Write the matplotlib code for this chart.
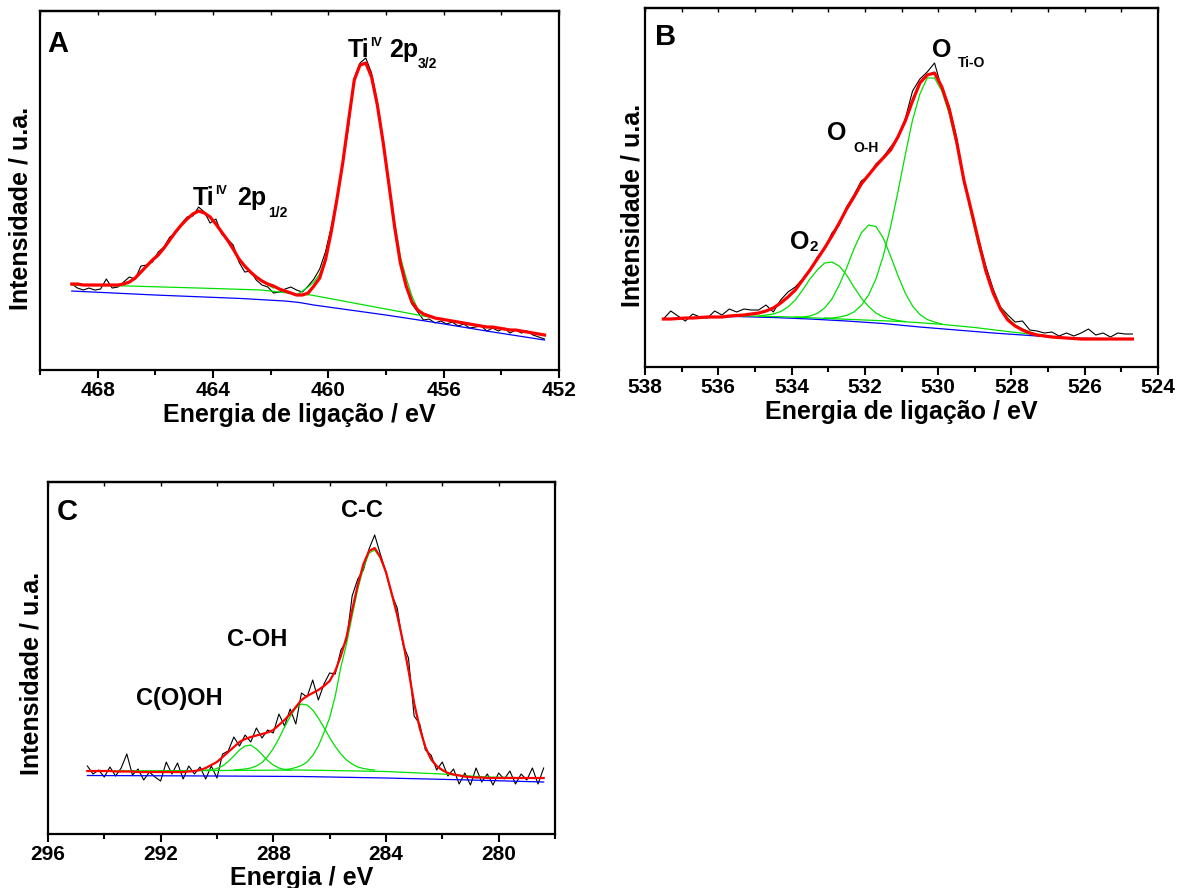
import matplotlib
matplotlib.use('Agg')
import matplotlib.pyplot as plt
import numpy as np
from matplotlib.ticker import MultipleLocator

plt.rcParams['font.family'] = ['Liberation Sans', 'DejaVu Sans']
plt.rcParams['font.weight'] = 'bold'

# ---------- A: Ti 2p (0.2 eV steps from 468.9 eV) ----------
ti_start = 468.9
ti_fit = [86, 86, 85, 85, 85, 85, 85, 85, 85, 86,
          88, 92, 98, 104, 110, 115, 122, 130, 138, 145,
          151, 156, 159, 157, 153, 146, 138, 130, 121, 111,
          104, 98, 93, 89, 86, 84, 81, 79, 77, 75,
          75, 77, 84, 92, 110, 138, 171, 207, 249, 290,
          305, 307, 293, 265, 228, 186, 143, 107, 84, 68,
          60, 56, 54, 52, 51, 50, 49, 48, 47, 46,
          45, 44, 43, 43, 42, 41, 40, 40, 39, 38,
          37, 36, 35]
ti_raw = [86, 82, 80, 82, 80, 81, 91, 82, 83, 88,
          93, 91, 104, 105, 108, 118, 123, 133, 137, 146,
          153, 154, 163, 158, 147, 151, 136, 131, 125, 108,
          98, 99, 90, 85, 83, 77, 78, 81, 83, 80,
          78, 84, 91, 101, 118, 143, 173, 206, 243, 292,
          307, 312, 297, 268, 229, 185, 141, 108, 83, 66,
          58, 50, 51, 47, 49, 46, 48, 44, 46, 42,
          43, 44, 39, 42, 39, 42, 37, 40, 37, 39,
          35, 33, 31]
ti12_start = 467.5
ti12_peak = [85, 85, 86, 88, 92, 98, 104, 110, 115, 122,
             130, 138, 145, 151, 156, 159, 157, 153, 146, 138,
             130, 121, 111, 104, 98, 93, 89, 85, 82]
ti32_start = 461.1
ti32_peak = [75, 79, 83, 88, 96, 112, 139, 171, 207, 249,
             290, 305, 307, 293, 265, 228, 188, 148, 113, 92,
             74, 61, 55]
ti_bg_e = [468.9, 466.9, 464.5, 462.3, 461.1, 460.6, 456.7, 455.5, 454.4, 453.2, 452.5]
ti_bg = [85, 84, 82, 80, 76, 75, 54, 48, 43, 39, 35]
ti_base_e = [468.9, 466.0, 463.0, 461.5, 461.0, 460.5, 460.0, 458.0, 456.4, 454.4, 452.5]
ti_base = [79, 75, 71.5, 69, 67.5, 65, 63, 55, 48, 38.5, 30]

# ---------- B: O 1s (0.2 eV steps from 537.5 eV) ----------
o_start = 537.5
o_fit = [48, 48, 48.5, 49, 49, 49.5, 50, 50, 50, 51,
         51.5, 52, 53, 54, 56, 59, 64, 70, 77, 87,
         97, 108, 119, 131, 144, 158, 170, 183, 192, 201,
         209, 217, 230, 246, 266, 284, 292, 294, 280, 258,
         226, 187, 157, 126, 96, 74, 58, 47, 41, 37,
         34, 32, 31, 30, 29.5, 29, 28.5, 28, 28, 28,
         28, 28, 28, 28, 28]
o_raw = [48, 56, 51, 46, 53, 50, 49, 56, 52, 58,
         55, 58, 57, 57, 62, 55, 67, 75, 80, 88,
         96, 110, 118, 134, 142, 160, 172, 186, 191, 203,
         210, 220, 229, 248, 276, 288, 295, 304, 278, 261,
         230, 184, 158, 128, 101, 78, 60, 52, 45, 46,
         37, 36, 34, 35, 31, 34, 31, 34, 38, 32,
         34, 30, 34, 33, 33]
o2_start = 534.9
o2_peak = [51, 52, 53, 55.5, 60, 67, 77, 88, 97, 104,
           105, 101, 92, 80, 69, 60.5, 54, 50, 48, 46.5, 45.3]
ooh_start = 533.9
ooh_peak = [50, 50, 51, 53.6, 59, 68, 82, 99, 118, 134,
            142, 140.5, 129, 111, 91.6, 74, 61, 52.5, 47.5, 45, 43]
otio_start = 533.1
otio_peak = [49, 49, 50, 51.6, 55, 61.5, 72, 88, 111, 140,
             175, 212, 247, 273, 289, 289, 276, 253, 222, 187,
             152.5, 121, 95, 75, 60, 49, 42, 38, 35, 32.5, 31.5]
o_bg_e = [537.5, 535.5, 535.0, 534.0, 533.0, 532.0, 531.0, 530.0, 529.0, 528.0,
          527.5, 527.0, 526.5, 526.0, 524.7]
o_bg = [48, 51, 51, 50, 48.5, 47, 45.5, 43, 39.5, 35, 33, 31, 29, 28, 28]
o_base_e = [537.5, 535.5, 534.5, 533.5, 532.5, 531.5, 530.5, 529.5, 528.5, 527.5, 526.5, 524.7]
o_base = [48, 50.5, 49.5, 48, 46, 43.5, 40, 37, 34, 31.5, 29, 28]

# ---------- C: C 1s (0.2 eV steps from 294.6 eV) ----------
c_start = 294.6
c_fit = [63, 63, 63, 63, 63, 62.5, 62.5, 62.5, 62.5, 62,
         62, 62, 62, 62, 62, 62, 62, 62, 62.5, 63,
         64, 66, 69, 72, 77, 82, 87, 92, 95, 97,
         98.5, 100, 101.5, 104, 109, 114, 120, 127, 134, 138,
         141, 144, 148, 153, 163, 178, 197, 224, 249, 270,
         283, 286, 277, 262, 241, 219, 193, 164, 131, 106,
         87, 75, 68, 64, 61, 59.5, 58.5, 57.5, 57, 56.5,
         56.5, 56, 56, 56, 56, 56, 56, 56, 56, 56,
         56, 56]
c_raw = [68, 60, 64, 57, 67, 58, 66, 80, 59, 65,
         54, 62, 57, 53, 72, 60, 71, 55, 68, 60,
         67, 55, 68, 56, 80, 83, 97, 88, 99, 92,
         106, 96, 104, 101, 120, 108, 125, 110, 141, 137,
         154, 134, 150, 161, 160, 184, 193, 238, 255, 264,
         285, 299, 280, 262, 240, 226, 190, 176, 118, 110,
         84, 79, 64, 72, 58, 65, 50, 61, 49, 66,
         52, 60, 49, 61, 55, 63, 50, 60, 54, 66,
         50, 66]
cooh_start = 290.4
cooh_peak = [64, 64, 65.5, 68, 72.5, 78, 84, 88, 89, 85,
             79.5, 73.5, 69, 66, 64.5, 64]
coh_start = 289.4
coh_peak = [64, 64.5, 65, 66, 68, 71.5, 77.5, 85.5, 95.5, 107,
            117.5, 126, 130, 129, 124, 116, 106.5, 96.5, 87.5, 80,
            74, 70, 67, 65.5, 64.5, 64]
cc_start = 287.6
cc_peak = [64.5, 65, 66.5, 68.5, 72, 78.5, 88, 101.5, 116, 138,
           167, 190, 218, 245, 266, 281, 284, 276, 261, 240,
           218, 192, 163, 130, 105, 86, 74, 67.5, 63.5, 61,
           59.5]
c_bg_e = [294.6, 290.0, 287.0, 284.0, 282.0, 280.5, 278.4]
c_bg = [63, 63.5, 64, 62.5, 60, 57, 56]
c_base_e = [294.6, 290.0, 287.0, 284.0, 281.0, 278.4]
c_base = [58.5, 58, 57.5, 56, 54, 52]

STEP = 0.2
GREEN = '#00e000'


def energies(start, values):
    return start - STEP * np.arange(len(values))


def style(ax, xlim, ylim, major, minor, xlabel):
    ax.set_xlim(*xlim)
    ax.set_ylim(*ylim)
    ax.set_yticks([])
    ax.xaxis.set_major_locator(MultipleLocator(major))
    ax.xaxis.set_minor_locator(MultipleLocator(minor))
    ax.tick_params(axis='x', which='major', direction='out', length=6, width=1.5,
                   labelsize=15, pad=2)
    ax.tick_params(axis='x', which='minor', direction='out', length=3.5, width=1.5)
    for lab in ax.get_xticklabels():
        lab.set_fontweight('bold')
    # short inward ticks along the top edge
    top = ax.secondary_xaxis('top')
    top.xaxis.set_major_locator(MultipleLocator(major))
    top.xaxis.set_minor_locator(MultipleLocator(minor))
    top.tick_params(which='both', direction='in', length=3, width=1.0, labeltop=False)
    top.spines['top'].set_linewidth(1.6)
    for sp in ax.spines.values():
        sp.set_linewidth(1.6)
    ax.set_xlabel(xlabel, fontsize=18, fontweight='bold')
    ax.set_ylabel('Intensidade / u.a.', fontsize=18, fontweight='bold')


def put(ax, x, y, s, size):
    ax.text(x, y, s, fontsize=size, fontweight='bold', va='baseline', ha='left')


fig = plt.figure(figsize=(11.84, 8.88), dpi=100)
axA = fig.add_axes([0.0338, 0.5833, 0.4383, 0.4043])
axB = fig.add_axes([0.5448, 0.5867, 0.4333, 0.4043])
axC = fig.add_axes([0.0405, 0.0608, 0.4282, 0.3964])

# panel A
axA.plot(energies(ti_start, ti_raw), ti_raw, color='black', lw=0.8)
axA.plot(ti_base_e, ti_base, color='blue', lw=0.9)
axA.plot(ti_bg_e, ti_bg, color=GREEN, lw=0.9)
axA.plot(energies(ti12_start, ti12_peak), ti12_peak, color=GREEN, lw=0.9)
axA.plot(energies(ti32_start, ti32_peak), ti32_peak, color=GREEN, lw=0.9)
axA.plot(energies(ti_start, ti_fit), ti_fit, color='red', lw=2.3)
style(axA, (470, 452), (0, 359), 4, 2, 'Energia de ligação / eV')
put(axA, 469.76, 318, 'A', 21)
put(axA, 464.69, 165, 'Ti', 18)
put(axA, 463.92, 176, 'IV', 9)
put(axA, 463.16, 165, '2p', 18)
put(axA, 462.1, 153, '1/2', 10)
put(axA, 459.34, 313, 'Ti', 18)
put(axA, 458.56, 324, 'IV', 9)
put(axA, 457.88, 313, '2p', 18)
put(axA, 456.9, 302, '3/2', 10)

# panel B
axB.plot(energies(o_start, o_raw), o_raw, color='black', lw=0.8)
axB.plot(o_base_e, o_base, color='blue', lw=0.9)
axB.plot(o_bg_e, o_bg, color=GREEN, lw=0.9)
axB.plot(energies(o2_start, o2_peak), o2_peak, color=GREEN, lw=0.9)
axB.plot(energies(ooh_start, ooh_peak), ooh_peak, color=GREEN, lw=0.9)
axB.plot(energies(otio_start, otio_peak), otio_peak, color=GREEN, lw=0.9)
axB.plot(energies(o_start, o_fit), o_fit, color='red', lw=2.3)
style(axB, (538, 524), (0, 359), 2, 1, 'Energia de ligação / eV')
put(axB, 537.73, 322, 'B', 21)
put(axB, 534.04, 118, 'O', 18)
put(axB, 533.5, 116, '2', 11)
put(axB, 533.03, 227, 'O', 18)
put(axB, 532.32, 215, 'O-H', 10)
put(axB, 530.17, 310, 'O', 18)
put(axB, 529.46, 300, 'Ti-O', 10)

# panel C
axC.plot(energies(c_start, c_raw), c_raw, color='black', lw=0.8)
axC.plot(c_base_e, c_base, color='blue', lw=0.9)
axC.plot(c_bg_e, c_bg, color=GREEN, lw=0.9)
axC.plot(energies(cooh_start, cooh_peak), cooh_peak, color=GREEN, lw=0.9)
axC.plot(energies(coh_start, coh_peak), coh_peak, color=GREEN, lw=0.9)
axC.plot(energies(cc_start, cc_peak), cc_peak, color=GREEN, lw=0.9)
axC.plot(energies(c_start, c_fit), c_fit, color='red', lw=1.6)
style(axC, (296, 278), (0, 352), 4, 2, 'Energia / eV')
put(axC, 295.68, 314, 'C', 21)
put(axC, 285.61, 317, 'C-C', 17)
put(axC, 289.63, 188, 'C-OH', 17)
put(axC, 292.87, 129, 'C(O)OH', 17)

axA.yaxis.set_label_coords(-0.015, 0.45)
axB.yaxis.set_label_coords(-0.002, 0.45)
axC.yaxis.set_label_coords(-0.008, 0.455)
axA.xaxis.set_label_coords(0.5, -0.092)
axB.xaxis.set_label_coords(0.5, -0.092)
axC.xaxis.set_label_coords(0.5, -0.09)

fig.savefig('out.png', dpi=100)
